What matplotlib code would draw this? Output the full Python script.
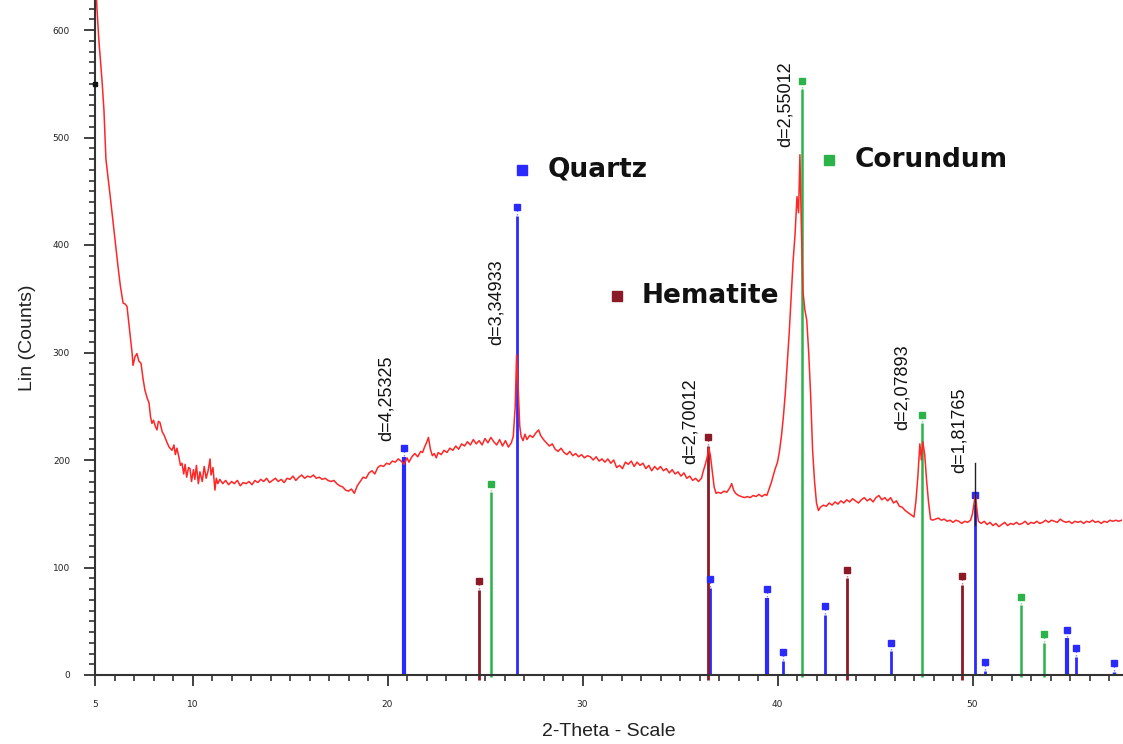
import matplotlib
matplotlib.use("Agg")
import matplotlib.pyplot as plt
from matplotlib.ticker import MultipleLocator, FixedLocator

# Measured diffractogram: (2-theta, counts)
trace_points = [
    (5.05, 640), (5.1, 620), (5.2, 590), (5.36, 553), (5.46, 525), (5.56, 480),
    (5.7, 458), (5.8, 442), (5.97, 414), (6.1, 392), (6.18, 380), (6.3, 362),
    (6.44, 346), (6.55, 345), (6.64, 343), (6.79, 318), (6.9, 300), (6.95, 288),
    (7.05, 296), (7.15, 299), (7.25, 292), (7.36, 290), (7.46, 276), (7.56, 265),
    (7.67, 258), (7.77, 253), (7.85, 240), (7.92, 234), (8.0, 237), (8.1, 231),
    (8.18, 228), (8.25, 236), (8.33, 235), (8.45, 226), (8.52, 224), (8.59, 221),
    (8.7, 216), (8.8, 212), (8.95, 209), (9.05, 214), (9.12, 205), (9.2, 211),
    (9.3, 203), (9.38, 195), (9.46, 197), (9.55, 187), (9.62, 196), (9.7, 184),
    (9.8, 193), (9.87, 192), (9.95, 180), (10.05, 191), (10.12, 182), (10.2, 195),
    (10.3, 178), (10.38, 189), (10.5, 180), (10.6, 194), (10.7, 183), (10.8, 190),
    (10.9, 201), (10.95, 186), (11.05, 193), (11.15, 172), (11.22, 183), (11.3, 178),
    (11.4, 182), (11.55, 178), (11.7, 181), (11.85, 177), (12.0, 180), (12.15, 178),
    (12.3, 181), (12.45, 176), (12.6, 179), (12.75, 178), (12.9, 180), (13.05, 177),
    (13.2, 181), (13.35, 179), (13.5, 182), (13.65, 180), (13.8, 183), (13.95, 179),
    (14.1, 181), (14.25, 183), (14.4, 180), (14.55, 182), (14.7, 179), (14.85, 183),
    (15.0, 182), (15.15, 185), (15.3, 181), (15.45, 184), (15.6, 186), (15.75, 183),
    (15.9, 185), (16.05, 184), (16.2, 186), (16.35, 183), (16.5, 184), (16.65, 182),
    (16.8, 183), (16.95, 181), (17.1, 180), (17.25, 181), (17.4, 178), (17.55, 176),
    (17.7, 175), (17.85, 172), (18.0, 171), (18.15, 173), (18.3, 169), (18.45, 176),
    (18.6, 180), (18.75, 184), (18.9, 183), (19.05, 188), (19.2, 190), (19.35, 187),
    (19.5, 193), (19.65, 195), (19.8, 194), (19.95, 197), (20.1, 196), (20.25, 199),
    (20.4, 198), (20.55, 201), (20.7, 199), (20.85, 196), (21.0, 202), (21.1, 198),
    (21.25, 203), (21.4, 206), (21.55, 203), (21.7, 208), (21.8, 207), (21.9, 212),
    (22.0, 216), (22.1, 221), (22.2, 210), (22.3, 204), (22.4, 206), (22.5, 202),
    (22.6, 207), (22.75, 205), (22.9, 209), (23.05, 207), (23.2, 211), (23.35, 209),
    (23.5, 213), (23.65, 210), (23.8, 215), (23.95, 213), (24.1, 217), (24.25, 214),
    (24.4, 219), (24.55, 215), (24.7, 218), (24.85, 214), (25.0, 220), (25.15, 216),
    (25.3, 221), (25.45, 217), (25.6, 214), (25.75, 219), (25.9, 213), (26.05, 218),
    (26.2, 212), (26.35, 216), (26.45, 222), (26.55, 250), (26.62, 298), (26.7, 268),
    (26.78, 232), (26.85, 222), (26.95, 218), (27.05, 224), (27.15, 219), (27.3, 223),
    (27.45, 221), (27.6, 225), (27.75, 228), (27.85, 223), (28.0, 219), (28.15, 216),
    (28.3, 213), (28.45, 215), (28.6, 210), (28.75, 208), (28.9, 211), (29.05, 207),
    (29.2, 205), (29.35, 208), (29.5, 204), (29.65, 206), (29.8, 203), (29.95, 205),
    (30.1, 202), (30.25, 204), (30.4, 203), (30.55, 200), (30.7, 203), (30.85, 199),
    (31.0, 201), (31.15, 198), (31.3, 201), (31.45, 197), (31.6, 200), (31.75, 193),
    (31.9, 195), (32.05, 192), (32.2, 198), (32.35, 196), (32.5, 199), (32.65, 194),
    (32.8, 198), (32.95, 195), (33.1, 197), (33.25, 192), (33.4, 195), (33.55, 190),
    (33.7, 194), (33.85, 191), (34.0, 194), (34.15, 190), (34.3, 192), (34.45, 188),
    (34.6, 191), (34.75, 187), (34.9, 189), (35.05, 185), (35.2, 188), (35.35, 183),
    (35.5, 185), (35.65, 181), (35.8, 183), (35.95, 180), (36.1, 183), (36.2, 190),
    (36.3, 196), (36.4, 203), (36.48, 211), (36.56, 204), (36.65, 190), (36.75, 175),
    (36.85, 169), (36.95, 170), (37.1, 169), (37.25, 171), (37.4, 170), (37.55, 174),
    (37.65, 178), (37.75, 172), (37.85, 169), (38.0, 167), (38.15, 166), (38.3, 165),
    (38.45, 166), (38.6, 165), (38.75, 167), (38.9, 166), (39.05, 168), (39.2, 166),
    (39.35, 168), (39.45, 167), (39.55, 172), (39.7, 180), (39.85, 190), (40.0, 198),
    (40.1, 208), (40.2, 222), (40.3, 240), (40.4, 262), (40.5, 290), (40.6, 318),
    (40.7, 352), (40.8, 385), (40.9, 410), (41.0, 445), (41.08, 430), (41.15, 484),
    (41.22, 420), (41.3, 358), (41.4, 340), (41.5, 330), (41.6, 300), (41.7, 260),
    (41.8, 209), (41.9, 180), (42.0, 160), (42.1, 153), (42.2, 156), (42.35, 158),
    (42.5, 157), (42.65, 160), (42.8, 158), (42.95, 161), (43.1, 159), (43.25, 162),
    (43.4, 160), (43.55, 163), (43.7, 161), (43.85, 164), (44.0, 162), (44.15, 160),
    (44.3, 163), (44.45, 165), (44.6, 162), (44.75, 164), (44.9, 161), (45.05, 165),
    (45.2, 167), (45.35, 163), (45.5, 165), (45.65, 162), (45.8, 165), (45.95, 160),
    (46.1, 162), (46.25, 157), (46.4, 156), (46.55, 153), (46.7, 151), (46.85, 149),
    (47.0, 147), (47.1, 162), (47.2, 185), (47.3, 215), (47.38, 200), (47.45, 217),
    (47.55, 205), (47.65, 180), (47.75, 160), (47.85, 145), (47.95, 144), (48.1, 145),
    (48.25, 146), (48.4, 144), (48.55, 145), (48.7, 143), (48.85, 144), (49.0, 142),
    (49.15, 144), (49.3, 143), (49.45, 141), (49.6, 143), (49.75, 142), (49.9, 144),
    (50.0, 150), (50.08, 160), (50.15, 168), (50.22, 155), (50.3, 143), (50.45, 141),
    (50.6, 143), (50.75, 140), (50.9, 142), (51.05, 139), (51.2, 141), (51.35, 138),
    (51.5, 140), (51.65, 142), (51.8, 139), (51.95, 141), (52.1, 140), (52.25, 142),
    (52.4, 140), (52.55, 141), (52.7, 143), (52.85, 140), (53.0, 142), (53.15, 141),
    (53.3, 143), (53.45, 141), (53.6, 142), (53.75, 144), (53.9, 142), (54.05, 144),
    (54.2, 143), (54.35, 142), (54.5, 145), (54.65, 143), (54.8, 142), (54.95, 143),
    (55.1, 141), (55.25, 143), (55.4, 142), (55.55, 143), (55.7, 141), (55.85, 143),
    (56.0, 142), (56.15, 144), (56.3, 142), (56.45, 143), (56.6, 141), (56.75, 143),
    (56.9, 142), (57.05, 144), (57.2, 143), (57.35, 144), (57.5, 143), (57.65, 144),
]

# Reference patterns: stick positions (2-theta) and heights (counts)
quartz_pos = [20.85, 26.65, 36.55, 39.47, 40.3, 42.45, 45.8, 50.15, 50.62, 54.85, 55.32, 57.25]
quartz_int = [211, 435, 89, 80, 21, 64, 30, 167, 12, 42, 25, 11]
quartz_lw = [3.0, 2.0, 2.0, 3.0, 2.0, 2.0, 2.0, 2.0, 2.0, 3.0, 2.0, 2.5]

hematite_pos = [24.7, 36.45, 43.55, 49.45]
hematite_int = [87, 221, 98, 92]

corundum_pos = [25.3, 41.25, 47.4, 52.5, 53.65]
corundum_int = [178, 553, 242, 73, 38]

# d-spacing annotations: (2-theta, counts at text base, label)
d_pos = [19.95, 25.6, 35.5, 40.4, 46.4, 49.3]
d_base = [218, 307, 196, 491, 228, 188]
d_labels = ["d=4,25325", "d=3,34933", "d=2,70012", "d=2,55012", "d=2,07893", "d=1,81765"]

phase_names = ["Quartz", "Hematite", "Corundum"]
phase_colors = ["#2a2aff", "#8b1a26", "#2bb34a"]
phase_key_xy = [(26.9, 470), (31.75, 353), (42.65, 479)]

fig = plt.figure(figsize=(11.23, 7.44), dpi=100)
ax = fig.add_axes([95 / 1123, 69 / 744, 1027 / 1123, 675 / 744])

xs = [p[0] for p in trace_points]
ys = [p[1] for p in trace_points]

def sticks(pos, heights, color, widths, below=0):
    for x, h, lw in zip(pos, heights, widths):
        ax.plot([x, x], [-below, h - 8], color=color, lw=lw, solid_capstyle="butt",
                clip_on=False, zorder=2)
        ax.plot([x, x], [h - 7, h - 2], color=color, lw=1.0, ls=(0, (1, 1.5)),
                alpha=0.6, clip_on=False, zorder=2)
        ax.plot([x], [h], marker="s", ms=5, color=color, mec=color, zorder=3)

sticks(quartz_pos, quartz_int, phase_colors[0], quartz_lw)
sticks(hematite_pos, hematite_int, phase_colors[1], [2.0] * len(hematite_pos), below=5)
sticks(corundum_pos, corundum_int, phase_colors[2], [1.8] * len(corundum_pos), below=2)

ax.plot(xs, ys, color="#ff2626", lw=1.1, zorder=4)

# marker lines drawn by the peak-search tool
ax.plot([50.15, 50.15], [140, 197], color="#222222", lw=1.0, zorder=5)
ax.plot([5.0], [550], marker="s", ms=3, color="#111111", clip_on=False, zorder=6)

for x, y, s in zip(d_pos, d_base, d_labels):
    ax.text(x, y, s, rotation=90, ha="center", va="bottom", fontsize=13,
            family="Liberation Sans", color="#111111", zorder=6)

for name, col, (kx, ky) in zip(phase_names, phase_colors, phase_key_xy):
    ax.plot([kx], [ky], marker="s", ms=7, color=col, mec=col, zorder=6)
    ax.text(kx + 1.3, ky, name, ha="left", va="center", fontsize=19,
            fontweight="bold", family="DejaVu Sans", color="#111111", zorder=6)

ax.set_xlim(5, 5 + 1027 / 19.5)
ax.set_ylim(0, 675 / 1.075)

for side in ("top", "right"):
    ax.spines[side].set_visible(False)
for side in ("left", "bottom"):
    ax.spines[side].set_color("#333333")
    ax.spines[side].set_linewidth(1.5)

ax.xaxis.set_major_locator(FixedLocator([5, 10, 20, 30, 40, 50]))
ax.xaxis.set_minor_locator(MultipleLocator(1))
ax.yaxis.set_major_locator(MultipleLocator(100))
ax.yaxis.set_minor_locator(MultipleLocator(10))
ax.tick_params(axis="both", which="major", length=8, width=1.3, color="#333333",
               labelsize=6.5, labelcolor="#222222", pad=10)
ax.tick_params(axis="both", which="minor", length=4, width=1.2, color="#333333")
ax.tick_params(axis="y", which="major", pad=10)

ax.set_xlabel("2-Theta - Scale", fontsize=14, family="Liberation Sans", color="#222222",
              labelpad=10)
ax.set_ylabel("Lin (Counts)", fontsize=14, family="Liberation Sans", color="#222222",
              labelpad=12)

fig.savefig("out.png", dpi=100, facecolor="white")
